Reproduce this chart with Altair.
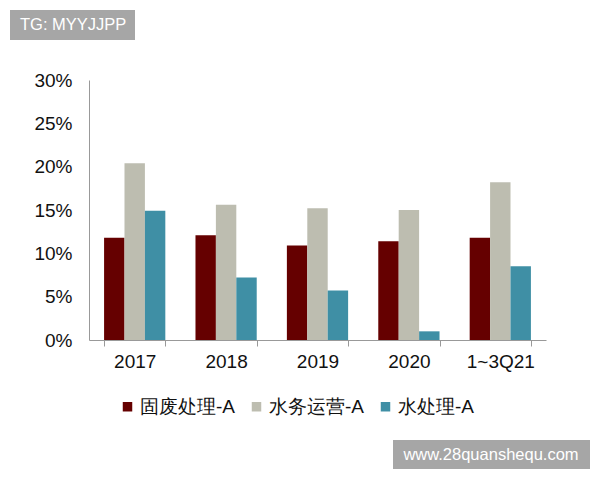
import altair as alt
import pandas as pd

years = ["2017", "2018", "2019", "2020", "1~3Q21"]
series = ["固废处理-A", "水务运营-A", "水处理-A"]
solid_waste = [11.8, 12.1, 10.9, 11.4, 11.8]
water_ops = [20.4, 15.6, 15.2, 15.0, 18.2]
water_treat = [14.9, 7.2, 5.7, 1.0, 8.5]
colors = ["#650000", "#bdbdb0", "#3f8fa5"]

rows = []
for name, vals in zip(series, [solid_waste, water_ops, water_treat]):
    for yr, v in zip(years, vals):
        rows.append({"year": yr, "series": name, "value": v})
df = pd.DataFrame(rows)

font = "Liberation Sans"

bars = alt.Chart(df).mark_bar().encode(
    x=alt.X("year:N", sort=years, title=None,
            scale=alt.Scale(paddingInner=0.33, paddingOuter=0.165),
            axis=alt.Axis(labelAngle=0, labelFontSize=19, labelFont=font,
                          labelColor="#111", labelPadding=6,
                          domainColor="#999", tickColor="#999",
                          tickBand="extent", tickSize=6)),
    xOffset=alt.XOffset("series:N", sort=series,
                        scale=alt.Scale(paddingInner=0, paddingOuter=0)),
    y=alt.Y("value:Q", title=None,
            scale=alt.Scale(domain=[0, 30]),
            axis=alt.Axis(values=[0, 5, 10, 15, 20, 25, 30],
                          labelExpr="datum.value + '%'",
                          labelFontSize=19, labelFont=font,
                          labelColor="#111", labelPadding=17,
                          ticks=False, grid=False, domainColor="#999")),
    color=alt.Color("series:N", sort=series,
                    scale=alt.Scale(domain=series, range=colors),
                    legend=alt.Legend(title=None, orient="none",
                                      direction="horizontal",
                                      legendX=29, legendY=317,
                                      symbolType="square", symbolSize=90,
                                      symbolStrokeWidth=0,
                                      labelFontSize=19, labelFont=font,
                                      labelColor="#111", labelOffset=3,
                                      columnPadding=12)),
)

# watermark tags
tags = pd.DataFrame({
    "label": ["TG: MYYJJPP", "www.28quanshequ.com"],
    "x": [-79, 304], "x2": [46, 501],
    "y": [-70, 360], "y2": [-40, 389],
    "tx": [-69, 402], "ty": [-55, 374.5],
})

boxes = alt.Chart(tags).mark_rect(color="#a6a6a6", clip=False).encode(
    x=alt.X("x:Q", scale=None), x2="x2:Q",
    y=alt.Y("y:Q", scale=None), y2="y2:Q",
)

top_tag = alt.Chart(tags.iloc[[0]]).mark_text(
    color="white", fontSize=16.5, font=font, align="left",
    baseline="middle", clip=False
).encode(x=alt.X("tx:Q", scale=None), y=alt.Y("ty:Q", scale=None), text="label:N")

bottom_tag = alt.Chart(tags.iloc[[1]]).mark_text(
    color="white", fontSize=16.5, font=font, align="center",
    baseline="middle", clip=False
).encode(x=alt.X("tx:Q", scale=None), y=alt.Y("ty:Q", scale=None), text="label:N")

chart = alt.layer(bars, boxes, top_tag, bottom_tag).resolve_scale(
    x="independent", y="independent"
).properties(
    width=457, height=260,
    autosize=alt.AutoSizeParams(type="none"),
    padding={"left": 81, "top": 72, "right": 46, "bottom": 130},
    background="white",
).configure_view(stroke=None)

chart.save("out.html", embed_options={"renderer": "svg", "actions": False})
